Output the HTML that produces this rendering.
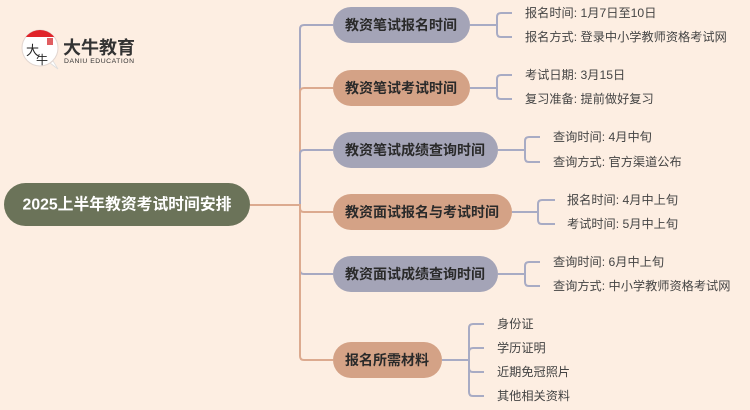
<!DOCTYPE html>
<html><head><meta charset="utf-8"><style>
html,body{margin:0;padding:0;background:#fdeee2;}
svg{display:block;}
text{font-family:"Liberation Sans","Noto Sans CJK SC",sans-serif;}
</style></head><body>
<svg width="750" height="410" viewBox="0 0 750 410" xmlns="http://www.w3.org/2000/svg">
<rect width="750" height="410" fill="#fdeee2"/>
<!-- logo -->
<defs><clipPath id="lc"><circle cx="40" cy="48" r="18"/></clipPath></defs>
<path d="M50 63 L58 69 L53 61 Z" fill="#fff" stroke="#ddd" stroke-width="0.8"/>
<circle cx="40" cy="48" r="18" fill="#fff" stroke="#e2d6d0" stroke-width="1"/>
<rect x="20" y="28" width="40" height="9" fill="#e0242a" clip-path="url(#lc)"/>
<text x="26" y="55" font-size="13" fill="#222" font-family="Noto Serif CJK SC,serif">大</text>
<text x="36" y="64" font-size="12" fill="#222" font-family="Noto Serif CJK SC,serif">牛</text>
<rect x="47" y="38" width="6" height="7" fill="#d8363a" opacity="0.8"/>
<text x="63" y="54" font-size="18" font-weight="bold" fill="#333">大牛教育</text>
<text x="64" y="63" font-size="6.8" fill="#333" textLength="70">DANIU EDUCATION</text>

<!-- trunk connectors -->
<g fill="none" stroke-width="2">
<path d="M250 205 H300 V29 Q300 25 304 25 H333" stroke="#a7a9c2"/>
<path d="M250 205 H300 V92 Q300 88 304 88 H333" stroke="#dcaa8f"/>
<path d="M250 205 H300 V154 Q300 150 304 150 H333" stroke="#a7a9c2"/>
<path d="M250 205 H300 V208 Q300 212 304 212 H333" stroke="#dcaa8f"/>
<path d="M250 205 H300 V270 Q300 274 304 274 H333" stroke="#a7a9c2"/>
<path d="M250 205 H300 V356 Q300 360 304 360 H333" stroke="#dcaa8f"/>
</g>

<!-- leaf brackets -->
<g fill="none" stroke="#a8abc4" stroke-width="2">
<path d="M470 25 H497 M497 25 V17 Q497 13 501 13 H512 M497 25 V33 Q497 37 501 37 H512"/>
<path d="M470 88 H497 M497 88 V79 Q497 75 501 75 H512 M497 88 V95 Q497 99 501 99 H512"/>
<path d="M498 150 H525 M525 150 V141 Q525 137 529 137 H540 M525 150 V158 Q525 162 529 162 H540"/>
<path d="M512 212 H538 M538 212 V204 Q538 200 542 200 H555 M538 212 V220 Q538 224 542 224 H555"/>
<path d="M498 274 H525 M525 274 V266 Q525 262 529 262 H540 M525 274 V282 Q525 286 529 286 H540"/>
<path d="M442 360 H469 M469 360 V328 Q469 324 473 324 H484 M469 360 V352 Q469 348 473 348 H484 M469 360 V368 Q469 372 473 372 H484 M469 360 V392 Q469 396 473 396 H484"/>
</g>

<!-- root -->
<rect x="4" y="183" width="246" height="43" rx="21.5" fill="#6b7359"/>
<text x="127" y="205" font-size="15.8" font-weight="bold" fill="#fff" text-anchor="middle" dominant-baseline="central">2025上半年教资考试时间安排</text>

<!-- branch nodes -->
<g font-size="14" font-weight="bold" fill="#2a2a2a">
<rect x="333" y="7" width="137" height="36" rx="18" fill="#a4a4b7"/>
<text x="345" y="25" dominant-baseline="central">教资笔试报名时间</text>
<rect x="333" y="70" width="137" height="36" rx="18" fill="#d4a286"/>
<text x="345" y="88" dominant-baseline="central">教资笔试考试时间</text>
<rect x="333" y="132" width="165" height="36" rx="18" fill="#a4a4b7"/>
<text x="345" y="150" dominant-baseline="central">教资笔试成绩查询时间</text>
<rect x="333" y="194" width="179" height="36" rx="18" fill="#d4a286"/>
<text x="345" y="212" dominant-baseline="central">教资面试报名与考试时间</text>
<rect x="333" y="256" width="165" height="36" rx="18" fill="#a4a4b7"/>
<text x="345" y="274" dominant-baseline="central">教资面试成绩查询时间</text>
<rect x="333" y="342" width="109" height="36" rx="18" fill="#d4a286"/>
<text x="345" y="360" dominant-baseline="central">报名所需材料</text>
</g>

<!-- leaves -->
<g font-size="12.2" fill="#444">
<text x="525" y="13" dominant-baseline="central">报名时间: 1月7日至10日</text>
<text x="525" y="37" dominant-baseline="central">报名方式: 登录中小学教师资格考试网</text>
<text x="525" y="75" dominant-baseline="central">考试日期: 3月15日</text>
<text x="525" y="99" dominant-baseline="central">复习准备: 提前做好复习</text>
<text x="553" y="137" dominant-baseline="central">查询时间: 4月中旬</text>
<text x="553" y="162" dominant-baseline="central">查询方式: 官方渠道公布</text>
<text x="567" y="200" dominant-baseline="central">报名时间: 4月中上旬</text>
<text x="567" y="224" dominant-baseline="central">考试时间: 5月中上旬</text>
<text x="553" y="262" dominant-baseline="central">查询时间: 6月中上旬</text>
<text x="553" y="286" dominant-baseline="central">查询方式: 中小学教师资格考试网</text>
<text x="497" y="324" dominant-baseline="central">身份证</text>
<text x="497" y="348" dominant-baseline="central">学历证明</text>
<text x="497" y="372" dominant-baseline="central">近期免冠照片</text>
<text x="497" y="396" dominant-baseline="central">其他相关资料</text>
</g>
</svg>
</body></html>
